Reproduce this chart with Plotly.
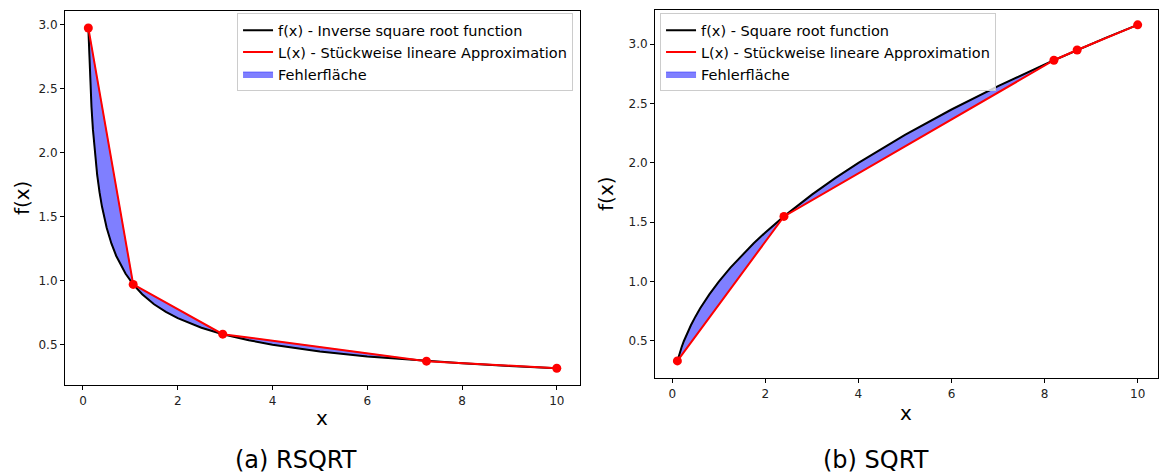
import plotly.graph_objects as go

# ---------- data: RSQRT panel ----------
rs_x = [0.113, 0.13, 0.15, 0.18, 0.21, 0.25, 0.3, 0.35, 0.4, 0.5, 0.6, 0.7, 0.8, 0.9,
        1.06, 1.25, 1.5, 1.75, 2.0, 2.5, 2.95, 3.5, 4.0, 5.0, 6.0, 7.25, 8.0, 9.0, 10.0]
rs_y = [2.975, 2.774, 2.582, 2.357, 2.182, 2.000, 1.826, 1.690, 1.581, 1.414, 1.291, 1.195,
        1.118, 1.054, 0.971, 0.894, 0.816, 0.756, 0.707, 0.632, 0.582, 0.535, 0.500, 0.447,
        0.408, 0.371, 0.354, 0.333, 0.316]
rs_bx = [0.113, 1.06, 2.95, 7.25, 10.0]
rs_by = [2.975, 0.971, 0.582, 0.371, 0.316]

# ---------- data: SQRT panel ----------
sq_x = [0.11, 0.13, 0.16, 0.2, 0.25, 0.3, 0.4, 0.5, 0.6, 0.8, 1.0, 1.25, 1.5, 1.75, 2.0,
        2.4, 3.0, 3.5, 4.0, 4.5, 5.0, 6.0, 7.0, 8.2, 8.7, 9.3, 10.0]
sq_y = [0.332, 0.361, 0.400, 0.447, 0.500, 0.548, 0.632, 0.707, 0.775, 0.894, 1.000, 1.118,
        1.225, 1.323, 1.414, 1.549, 1.732, 1.871, 2.000, 2.121, 2.236, 2.449, 2.646, 2.864,
        2.950, 3.050, 3.162]
sq_bx = [0.11, 2.4, 8.2, 8.7, 10.0]
sq_by = [0.332, 1.549, 2.864, 2.950, 3.162]

rs_labels = ["f(x) - Inverse square root function", "L(x) - Stückweise lineare Approximation", "Fehlerfläche"]
sq_labels = ["f(x) - Square root function", "L(x) - Stückweise lineare Approximation", "Fehlerfläche"]
captions = ["(a) RSQRT", "(b) SQRT"]

FONT = "DejaVu Sans"
fig = go.Figure()

def add_panel(fx, fy, bx, by, labels, xa, ya, leg):
    # error area polygon: curve forward, breakpoints back
    px = list(fx) + list(reversed(bx))
    py = list(fy) + list(reversed(by))
    fig.add_trace(go.Scatter(x=px, y=py, mode="lines", fill="toself",
                             fillcolor="rgba(0,0,255,0.5)", line=dict(width=0.8, color="rgba(0,0,255,0.5)"),
                             name=labels[2], legendrank=3, xaxis=xa, yaxis=ya, legend=leg))
    fig.add_trace(go.Scatter(x=fx, y=fy, mode="lines", line=dict(color="black", width=2),
                             name=labels[0], legendrank=1, xaxis=xa, yaxis=ya, legend=leg))
    fig.add_trace(go.Scatter(x=bx, y=by, mode="lines+markers", line=dict(color="red", width=2),
                             marker=dict(color="red", size=9), name=labels[1], showlegend=False,
                             xaxis=xa, yaxis=ya, legend=leg))
    # legend-only entry (line without marker, like the reference)
    fig.add_trace(go.Scatter(x=[None], y=[None], mode="lines", line=dict(color="red", width=2),
                             name=labels[1], legendrank=2, xaxis=xa, yaxis=ya, legend=leg))

add_panel(rs_x, rs_y, rs_bx, rs_by, rs_labels, "x", "y", "legend")
add_panel(sq_x, sq_y, sq_bx, sq_by, sq_labels, "x2", "y2", "legend2")

axis_common = dict(showline=True, linecolor="black", linewidth=1, mirror=True, ticks="outside",
                   ticklen=4, tickcolor="black", showgrid=False, zeroline=False, automargin=False,
                   tickfont=dict(family=FONT, size=12, color="#222"))

fig.update_layout(
    width=1160, height=475, margin=dict(l=0, r=0, t=0, b=0, autoexpand=False),
    plot_bgcolor="white", paper_bgcolor="white", hovermode=False,
    xaxis=dict(domain=[0.056, 0.5], range=[-0.38, 10.49], dtick=2, anchor="y", **axis_common),
    yaxis=dict(domain=[0.189, 0.977], range=[0.183, 3.108], dtick=0.5, tickformat=".1f", anchor="x", **axis_common),
    xaxis2=dict(domain=[0.5647, 0.998], range=[-0.37, 10.43], dtick=2, anchor="y2", **axis_common),
    yaxis2=dict(domain=[0.204, 0.979], range=[0.1875, 3.287], dtick=0.5, tickformat=".1f", anchor="x2", **axis_common),
    legend=dict(x=0.494, xanchor="right", y=0.972, yanchor="top", bgcolor="rgba(255,255,255,0.8)",
                bordercolor="#cccccc", borderwidth=1, font=dict(family=FONT, size=14.5, color="black"),
                tracegroupgap=0),
    legend2=dict(x=0.569, xanchor="left", y=0.972, yanchor="top", bgcolor="rgba(255,255,255,0.8)",
                 bordercolor="#cccccc", borderwidth=1, font=dict(family=FONT, size=14.5, color="black"),
                 tracegroupgap=0),
    showlegend=True,
)

ann = [
    dict(text="x", x=0.278, y=0.12, font=dict(size=20)),
    dict(text="f(x)", x=0.019, y=0.583, textangle=-90, font=dict(size=20)),
    dict(text="x", x=0.781, y=0.13, font=dict(size=20)),
    dict(text="f(x)", x=0.523, y=0.591, textangle=-90, font=dict(size=20)),
    dict(text=captions[0], x=0.2556, y=0.032, font=dict(size=24)),
    dict(text=captions[1], x=0.7556, y=0.032, font=dict(size=24)),
]
for a in ann:
    f = dict(family=FONT, color="black")
    f.update(a.pop("font"))
    fig.add_annotation(xref="paper", yref="paper", showarrow=False, xanchor="center", yanchor="middle",
                       font=f, **a)

fig.write_html("out.html", config={"displayModeBar": False, "staticPlot": True},
               post_script="document.body.style.margin='0';document.body.style.padding='0';"
                           "document.body.style.overflow='hidden';")
